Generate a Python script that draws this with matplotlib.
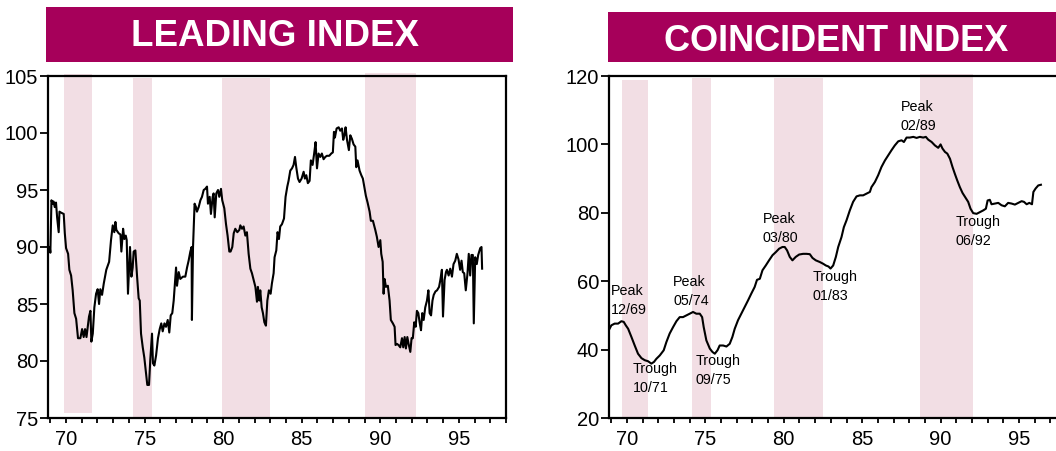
import matplotlib
matplotlib.use('Agg')
import matplotlib.pyplot as plt
from matplotlib.patches import Rectangle
from matplotlib.ticker import MultipleLocator

plt.rcParams['font.family'] = ['Liberation Sans', 'DejaVu Sans']

# Leading index (year, value)
lead_year = [68.96, 69.0, 69.07, 69.15, 69.2, 69.28, 69.36, 69.43, 69.53, 69.58, 69.7, 69.85, 69.92,
             70.0, 70.13, 70.21, 70.32, 70.42, 70.53, 70.64, 70.76, 70.91, 71.02, 71.12, 71.21, 71.3,
             71.38, 71.46, 71.55, 71.61, 71.7, 71.8, 71.91, 72.01, 72.1, 72.18, 72.29, 72.4, 72.56,
             72.74, 72.86, 72.97, 73.07, 73.14, 73.2, 73.35, 73.46, 73.52, 73.63, 73.71, 73.8, 73.86,
             73.94, 74.07, 74.16, 74.24, 74.3, 74.41, 74.52, 74.62, 74.69, 74.77, 74.88, 74.98, 75.09,
             75.17, 75.28, 75.36, 75.47, 75.53, 75.62, 75.73, 75.85, 75.96, 76.06, 76.15, 76.26, 76.36,
             76.47, 76.57, 76.66, 76.76, 76.85, 76.91, 77.0, 77.06, 77.17, 77.27, 77.44, 77.59, 77.7,
             77.8, 77.91, 77.99, 78.01, 78.08, 78.18, 78.27, 78.33, 78.44, 78.55, 78.65, 78.76, 78.86,
             78.97, 79.03, 79.14, 79.22, 79.33, 79.39, 79.46, 79.56, 79.67, 79.75, 79.86, 79.94, 80.07,
             80.18, 80.28, 80.39, 80.47, 80.58, 80.67, 80.77, 80.9, 81.03, 81.09, 81.2, 81.3, 81.41,
             81.51, 81.62, 81.73, 81.83, 81.94, 82.05, 82.15, 82.21, 82.3, 82.36, 82.45, 82.53, 82.62,
             82.72, 82.81, 82.91, 83.02, 83.1, 83.21, 83.27, 83.38, 83.46, 83.55, 83.63, 83.74, 83.87,
             83.97, 84.08, 84.16, 84.27, 84.38, 84.48, 84.57, 84.65, 84.76, 84.86, 84.99, 85.12, 85.2,
             85.29, 85.39, 85.5, 85.58, 85.69, 85.79, 85.88, 85.97, 86.07, 86.18, 86.28, 86.39, 86.5,
             86.6, 86.75, 86.88, 86.98, 87.05, 87.11, 87.22, 87.35, 87.45, 87.56, 87.64, 87.73, 87.79,
             87.88, 88.0, 88.09, 88.19, 88.3, 88.41, 88.47, 88.55, 88.68, 88.79, 88.89, 88.98, 89.08,
             89.19, 89.32, 89.4, 89.53, 89.68, 89.78, 89.89, 90.0, 90.06, 90.15, 90.21, 90.27, 90.36,
             90.48, 90.59, 90.67, 90.8, 90.91, 90.97, 91.06, 91.16, 91.27, 91.38, 91.46, 91.55, 91.63,
             91.72, 91.8, 91.91, 91.99, 92.07, 92.16, 92.25, 92.33, 92.42, 92.5, 92.59, 92.67, 92.76,
             92.86, 92.97, 93.06, 93.14, 93.23, 93.32, 93.4, 93.51, 93.61, 93.74, 93.82, 93.92, 93.99,
             94.09, 94.18, 94.24, 94.35, 94.45, 94.56, 94.66, 94.77, 94.87, 94.98, 95.08, 95.17, 95.25,
             95.34, 95.44, 95.55, 95.63, 95.72, 95.8, 95.89, 95.95, 96.04, 96.14, 96.23, 96.36, 96.44,
             96.48]
lead_val = [90.0, 89.5, 94.1, 93.8, 94.0, 93.5, 93.9, 92.6, 91.3, 93.1, 93.0, 92.9, 91.2,
            89.9, 89.4, 88.0, 87.5, 86.2, 84.2, 83.7, 82.0, 82.0, 82.8, 82.1, 82.8, 82.1,
            83.0, 83.9, 84.4, 81.7, 82.4, 84.7, 85.9, 86.3, 85.0, 86.3, 85.8, 86.8, 88.0,
            88.7, 90.6, 91.9, 91.3, 92.2, 91.5, 91.2, 91.1, 89.6, 91.6, 90.7, 91.0, 90.6,
            85.9, 90.0, 87.4, 88.2, 89.6, 89.7, 87.4, 85.5, 85.3, 82.4, 81.2, 80.3, 78.9,
            77.9, 77.9, 80.1, 82.4, 79.8, 79.6, 80.5, 82.0, 82.8, 83.3, 82.6, 83.3, 83.0,
            83.6, 82.5, 84.0, 84.2, 85.3, 86.5, 88.2, 86.6, 87.8, 87.2, 87.4, 87.4, 88.2,
            88.8, 89.6, 90.0, 83.6, 90.0, 93.8, 93.5, 93.1, 93.5, 94.1, 94.4, 95.0, 95.1,
            95.3, 93.8, 94.4, 92.9, 94.4, 94.7, 92.6, 94.7, 95.0, 94.4, 95.1, 94.1, 93.4,
            92.0, 91.0, 89.6, 89.6, 90.0, 91.2, 91.6, 91.3, 91.5, 91.9, 91.6, 91.8, 91.0,
            91.3, 89.4, 88.1, 87.7, 87.1, 86.5, 85.2, 86.5, 85.3, 86.2, 84.7, 84.2, 83.4,
            83.1, 85.3, 86.2, 85.9, 86.8, 87.7, 89.1, 89.7, 91.3, 90.7, 91.8, 92.0, 92.5,
            94.4, 95.3, 95.8, 96.7, 96.9, 97.2, 97.9, 97.0, 96.0, 95.7, 96.0, 96.6, 96.0,
            96.3, 95.6, 95.8, 97.6, 97.2, 98.2, 99.2, 96.9, 98.2, 97.9, 98.2, 97.7, 97.9,
            98.0, 98.0, 98.2, 98.3, 100.1, 99.6, 100.4, 100.5, 100.2, 100.4, 99.4, 99.9, 100.5,
            99.4, 98.5, 99.8, 99.5, 99.0, 98.8, 97.0, 97.6, 96.7, 96.3, 96.0, 95.3, 94.5,
            93.9, 93.1, 92.3, 92.3, 91.5, 90.9, 90.0, 90.6, 89.4, 88.7, 85.9, 87.2, 86.5,
            86.6, 85.3, 83.6, 83.3, 83.0, 81.4, 81.5, 81.4, 81.2, 82.0, 81.2, 82.1, 81.1,
            82.1, 81.5, 80.8, 82.0, 82.0, 83.4, 83.0, 84.4, 84.2, 83.4, 82.7, 84.2, 83.6,
            84.7, 85.3, 86.2, 84.2, 84.0, 85.3, 85.8, 86.1, 86.2, 86.5, 87.1, 88.0, 83.9,
            87.1, 87.8, 88.0, 87.5, 88.1, 87.4, 88.5, 88.8, 89.4, 88.9, 88.0, 88.8, 87.8,
            87.7, 86.2, 87.7, 89.4, 87.5, 89.3, 89.3, 83.3, 89.1, 88.5, 89.3, 89.9, 90.0,
            88.1]

# Coincident index (year, value)
coin_year = [68.83, 69.0, 69.21, 69.43, 69.64, 69.79, 69.92, 70.07, 70.28, 70.49, 70.7, 70.92, 71.13,
             71.34, 71.55, 71.72, 71.87, 72.09, 72.34, 72.51, 72.72, 72.94, 73.15, 73.36, 73.57, 73.79,
             74.0, 74.21, 74.42, 74.64, 74.79, 74.89, 75.06, 75.28, 75.45, 75.6, 75.77, 75.91, 76.13,
             76.34, 76.55, 76.72, 76.87, 77.08, 77.29, 77.51, 77.72, 77.93, 78.14, 78.29, 78.47, 78.64,
             78.85, 79.06, 79.28, 79.49, 79.7, 79.91, 80.06, 80.21, 80.38, 80.55, 80.76, 80.98, 81.23,
             81.45, 81.66, 81.83, 82.04, 82.3, 82.51, 82.68, 82.85, 82.98, 83.15, 83.32, 83.47, 83.68,
             83.83, 84.0, 84.21, 84.42, 84.64, 84.85, 85.06, 85.28, 85.49, 85.59, 85.81, 86.02, 86.23,
             86.45, 86.66, 86.87, 87.08, 87.3, 87.51, 87.66, 87.83, 88.04, 88.26, 88.47, 88.68, 88.89,
             89.06, 89.21, 89.43, 89.64, 89.85, 90.0, 90.12, 90.28, 90.43, 90.6, 90.76, 90.91, 91.06,
             91.23, 91.4, 91.57, 91.76, 91.91, 92.08, 92.3, 92.51, 92.72, 92.89, 93.0, 93.14, 93.25,
             93.46, 93.68, 93.89, 94.1, 94.31, 94.53, 94.74, 94.96, 95.17, 95.32, 95.49, 95.66, 95.83,
             95.92, 96.06, 96.23, 96.4]
coin_val = [45.6, 47.1, 47.6, 47.6, 48.3, 48.1, 47.1, 46.1, 43.7, 41.2, 38.8, 37.5, 36.9,
            36.6, 35.9, 36.4, 37.3, 38.3, 39.8, 42.2, 44.7, 46.6, 48.3, 49.5, 49.5, 50.0,
            50.5, 51.0, 50.5, 50.5, 49.5, 46.6, 42.7, 40.3, 39.3, 38.8, 39.8, 41.2, 41.2,
            40.9, 41.7, 43.7, 46.1, 48.6, 50.5, 52.5, 54.4, 56.4, 58.3, 60.4, 60.7, 63.2,
            64.6, 66.1, 67.6, 68.5, 69.5, 70.0, 70.0, 69.0, 67.1, 66.1, 67.1, 67.8, 68.0,
            68.0, 67.9, 66.8, 66.1, 65.6, 65.1, 64.6, 64.3, 63.7, 64.6, 67.1, 70.0, 72.9,
            75.8, 77.8, 80.7, 83.2, 84.8, 85.1, 85.1, 85.6, 86.1, 87.5, 89.0, 91.0, 93.4,
            95.3, 96.8, 98.3, 99.7, 100.9, 101.2, 100.7, 102.0, 102.0, 102.2, 101.9, 102.2, 102.0,
            102.2, 101.4, 100.7, 99.7, 99.0, 100.0, 98.8, 97.8, 97.3, 95.8, 93.4, 91.4, 89.5,
            87.5, 85.8, 84.6, 83.2, 81.2, 79.9, 79.7, 80.2, 80.7, 81.2, 83.6, 83.8, 82.5,
            82.7, 82.9, 82.2, 81.9, 82.9, 82.7, 82.4, 82.9, 83.4, 83.2, 82.5, 82.9, 82.5,
            86.1, 87.1, 88.0, 88.2]

# shaded periods (start, end, ymin, ymax in axes fraction)
lead_bands = [(69.9, 71.65, 0.015, 1.005), (74.25, 75.45, 0.0, 0.995),
              (79.95, 83.0, 0.0, 0.995), (89.05, 92.3, 0.0, 1.01)]
coin_bands = [(69.66, 71.32, 0.0, 0.987), (74.12, 75.34, 0.0, 0.995),
              (79.4, 82.5, 0.0, 0.995), (88.7, 92.05, 0.0, 1.007)]

# annotations on coincident chart: text, x, y (top-left)
coin_notes = [('Peak\n12/69', 69.0, 59.3), ('Trough\n10/71', 70.38, 36.3),
              ('Peak\n05/74', 72.94, 61.9), ('Trough\n09/75', 74.36, 38.8),
              ('Peak\n03/80', 78.64, 80.1), ('Trough\n01/83', 81.83, 63.2),
              ('Peak\n02/89', 87.44, 112.9), ('Trough\n06/92', 90.98, 79.3)]

xticks_major = [70, 75, 80, 85, 90, 95]
box_color = '#A6005A'
band_color = '#F2DEE4'

W, H = 1056, 451
fig = plt.figure(figsize=(W / 100, H / 100), dpi=100)


def px_axes(l, t, r, b):
    return fig.add_axes([l / W, 1 - b / H, (r - l) / W, (b - t) / H])


def style_axes(ax, ylim, yticks):
    ax.set_xlim(68.85, 98)
    ax.set_ylim(*ylim)
    ax.set_xticks(xticks_major)
    ax.set_xticklabels([str(t) for t in xticks_major])
    ax.xaxis.set_minor_locator(MultipleLocator(1))
    ax.set_yticks(yticks)
    ax.tick_params(axis='x', which='both', direction='out', length=3.6, width=1.3, pad=5,
                   labelsize=14.5, colors='black')
    ax.tick_params(axis='y', which='major', direction='out', length=6, width=1.3, pad=1,
                   labelsize=14.5)
    for s in ax.spines.values():
        s.set_linewidth(1.6)


# Leading index
ax1 = px_axes(48, 76, 506, 418)
for x0, x1, y0, y1 in lead_bands:
    ax1.axvspan(x0, x1, ymin=y0, ymax=y1, color=band_color, lw=0, zorder=0, clip_on=False)
ax1.plot(lead_year, lead_val, color='black', lw=1.5, zorder=3)
style_axes(ax1, (75, 105), [75, 80, 85, 90, 95, 100, 105])

# Coincident index
ax2 = px_axes(609, 76, 1066, 418)
for x0, x1, y0, y1 in coin_bands:
    ax2.axvspan(x0, x1, ymin=y0, ymax=y1, color=band_color, lw=0, zorder=0, clip_on=False)
ax2.plot(coin_year, coin_val, color='black', lw=1.5, zorder=3)
style_axes(ax2, (20, 120), [20, 40, 60, 80, 100, 120])
for txt, x, y in coin_notes:
    ax2.text(x, y, txt, ha='left', va='top', fontsize=10.3, linespacing=1.45, zorder=4)

# Title boxes
fig.patches.append(Rectangle((46 / W, 1 - 62 / H), 467 / W, 55 / H, transform=fig.transFigure,
                             facecolor=box_color, edgecolor='none'))
fig.patches.append(Rectangle((608 / W, 1 - 62 / H), 450 / W, 50 / H, transform=fig.transFigure,
                             facecolor=box_color, edgecolor='none'))
fig.text(275 / W, 1 - 46 / H, 'LEADING INDEX', color='white', fontsize=26.5,
         fontweight='bold', ha='center', va='baseline')
fig.text(836 / W, 1 - 51 / H, 'COINCIDENT INDEX', color='white', fontsize=26,
         fontweight='bold', ha='center', va='baseline')

fig.savefig('out.png', dpi=100)
